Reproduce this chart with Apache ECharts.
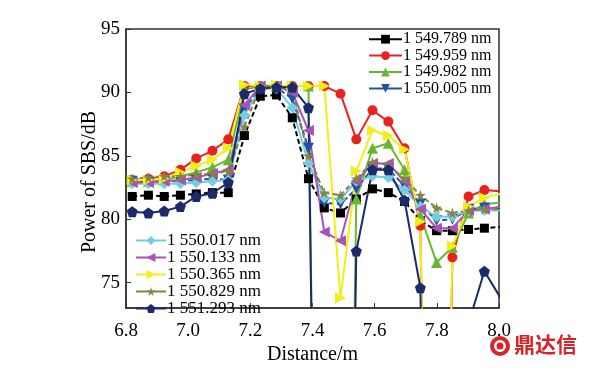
<!DOCTYPE html>
<html><head><meta charset="utf-8">
<script src="https://cdn.jsdelivr.net/npm/echarts@6/dist/echarts.min.js"></script>
<style>html,body{margin:0;padding:0;background:#fff}#c{width:591px;height:370px}</style>
</head><body><div id="c"></div><script>
// distance (m)
const distances = [6.820,6.872,6.923,6.975,7.026,7.078,7.129,7.181,7.232,7.284,7.335,7.387,7.438,7.490,7.541,7.593,7.644,7.696,7.747,7.799,7.850,7.902,7.953,8.005];
const xTicks = [6.8,7.0,7.2,7.4,7.6,7.8,8.0];
const yTicks = [75,80,85,90,95];
const seriesNames = ['1 549.789 nm','1 549.959 nm','1 549.982 nm','1 550.005 nm','1 550.017 nm','1 550.133 nm','1 550.365 nm','1 550.829 nm','1 551.293 nm'];
// power of SBS (dB); 0 = off-scale (below axis)
const p1549_789 = [81.8,81.9,81.8,81.9,82.0,82.1,82.1,86.6,89.7,89.8,88.0,83.2,80.9,80.5,81.6,82.4,82.1,81.4,79.9,79.1,79.1,79.2,79.3,79.4];
const p1549_959 = [83.1,83.2,83.4,83.9,84.8,85.4,86.3,90.5,90.5,90.5,90.5,90.5,90.5,89.9,86.3,88.6,87.7,85.6,79.5,0,77.0,81.8,82.3,82.2];
const p1549_982 = [83.0,83.0,83.1,83.4,83.7,84.1,84.7,90.2,90.5,90.5,90.5,90.5,0,0,81.6,85.6,86.0,83.9,80.3,76.6,77.8,80.5,81.2,81.3];
const p1550_005 = [83.0,83.0,83.0,83.0,83.1,83.2,83.1,88.7,90.3,90.4,89.5,85.6,81.3,81.2,82.4,84.0,84.0,82.6,81.2,79.9,80.0,80.8,80.9,80.8];
const p1550_017 = [82.8,82.8,82.8,82.8,82.9,83.0,83.1,88.2,90.3,90.3,88.8,84.4,81.7,81.6,83.0,83.4,83.3,82.3,81.0,80.2,80.2,80.7,80.7,80.7];
const p1550_133 = [82.9,82.9,83.0,83.1,83.3,83.6,83.9,89.0,90.5,90.5,90.0,87.0,79.0,78.3,83.0,84.4,84.4,83.0,80.8,79.3,79.3,80.7,80.8,81.0];
const p1550_365 = [83.1,83.1,83.2,83.7,84.2,84.7,85.6,90.6,90.5,90.6,90.5,90.5,90.5,73.8,83.8,87.0,86.6,85.5,79.8,0,77.9,81.0,81.7,82.0];
const p1550_829 = [83.2,83.3,83.4,83.4,83.5,83.6,83.8,87.3,90.5,90.5,90.2,85.0,82.1,81.9,83.2,84.5,84.3,83.2,81.9,80.9,80.5,80.7,80.8,80.8];
const p1551_293 = [80.6,80.5,80.65,81.0,81.8,82.05,82.9,89.9,90.3,90.4,90.4,88.8,0,0,77.5,83.9,83.9,81.5,74.6,0,0,71.8,75.9,73.8];

const allValues = [p1549_789,p1549_959,p1549_982,p1550_005,p1550_017,p1550_133,p1550_365,p1550_829,p1551_293];
const STAR = 'path://M50,0 L61,35 L98,35 L68,57 L79,91 L50,70 L21,91 L32,57 L2,35 L39,35 Z';
const PENT = 'path://M50,0 L98,36 L80,95 L20,95 L2,36 Z';
const styles = [
  {color:'#000000', symbol:'rect', rot:0, dash:[5,3], size:9},
  {color:'#e8231e', symbol:'circle', rot:0, dash:'solid', size:10},
  {color:'#68b82e', symbol:'triangle', rot:0, dash:'solid', size:11},
  {color:'#2150a6', symbol:'triangle', rot:180, dash:[5,3], size:11},
  {color:'#72cde2', symbol:'diamond', rot:0, dash:'solid', size:11},
  {color:'#a653b4', symbol:'triangle', rot:90, dash:'solid', size:11},
  {color:'#f2ee1c', symbol:'triangle', rot:-90, dash:'solid', size:11},
  {color:'#86853f', symbol:STAR, rot:0, dash:[5,3], size:11},
  {color:'#1c2a6c', symbol:PENT, rot:0, dash:'solid', size:11}
];
const series = seriesNames.map((n,k)=>({
  name:n, type:'line', data: distances.map((d,i)=>[d, allValues[k][i]]),
  symbol: styles[k].symbol, symbolSize: styles[k].size, symbolRotate: styles[k].rot,
  lineStyle:{color:styles[k].color, width:2, type:styles[k].dash},
  itemStyle:{color:styles[k].color},
  clip:true, animation:false
}));
const font = 'Liberation Serif';
const chart = echarts.init(document.getElementById('c'), null, {renderer:'canvas'});
chart.setOption({
  animation:false,
  backgroundColor:'#fff',
  grid:{left:126, right:92, top:29, bottom:51, show:true, borderColor:'#333', borderWidth:1.5, backgroundColor:'transparent'},
  legend:[
    {data:seriesNames.slice(0,4), orient:'vertical', left:368, top:31, itemWidth:33, itemHeight:11, itemGap:0, padding:0,
     lineStyle:{type:'solid'},
     textStyle:{fontFamily:font, fontSize:16, lineHeight:16.4, color:'#000', padding:[0,0,0,-4]}},
    {data:seriesNames.slice(4), orient:'vertical', left:135, top:232, itemWidth:30, itemHeight:11, itemGap:0, padding:0,
     lineStyle:{type:'solid'},
     textStyle:{fontFamily:font, fontSize:17, lineHeight:16, color:'#000', padding:[0,0,0,-4]}}
  ],
  xAxis:{type:'value', min:6.8, max:8.0, interval:0.2,
    name:'Distance/m', nameLocation:'middle', nameGap:25,
    nameTextStyle:{fontFamily:font, fontSize:20, color:'#000'},
    axisLine:{lineStyle:{color:'#333', width:1.5}},
    axisTick:{inside:true, length:5, lineStyle:{color:'#333'}},
    axisLabel:{fontFamily:font, fontSize:19, color:'#000', margin:8, padding:[5,0,0,0], formatter:v=>xTicks.some(t=>Math.abs(t-v)<1e-6)?v.toFixed(1):''},
    splitLine:{show:false}},
  yAxis:{type:'value', min:73, max:95,
    axisLine:{lineStyle:{color:'#333', width:1.5}},
    axisTick:{inside:true, length:5, customValues:yTicks, lineStyle:{color:'#333'}},
    axisLabel:{fontFamily:font, fontSize:19, color:'#000', margin:6, customValues:yTicks},
    splitLine:{show:false}},
  graphic:[
    {type:'text', x:90, y:182, rotation:Math.PI/2, silent:true,
     style:{text:'Power of SBS/dB', fill:'#000', font:'20px "Liberation Serif"', align:'center', verticalAlign:'middle'}},
    {type:'circle', shape:{cx:500, cy:346, r:10}, style:{fill:'#d8232a'}, silent:true},
    {type:'circle', shape:{cx:500, cy:346, r:6}, style:{fill:'#fff'}, silent:true},
    {type:'circle', shape:{cx:500, cy:346, r:3.5}, style:{fill:'#d8232a'}, silent:true},
    {type:'text', left:514, top:334, style:{text:'鼎达信', fill:'#d8232a', font:'bold 21px "Noto Sans CJK SC"'}, silent:true}
  ],
  series: series
});
</script></body></html>
